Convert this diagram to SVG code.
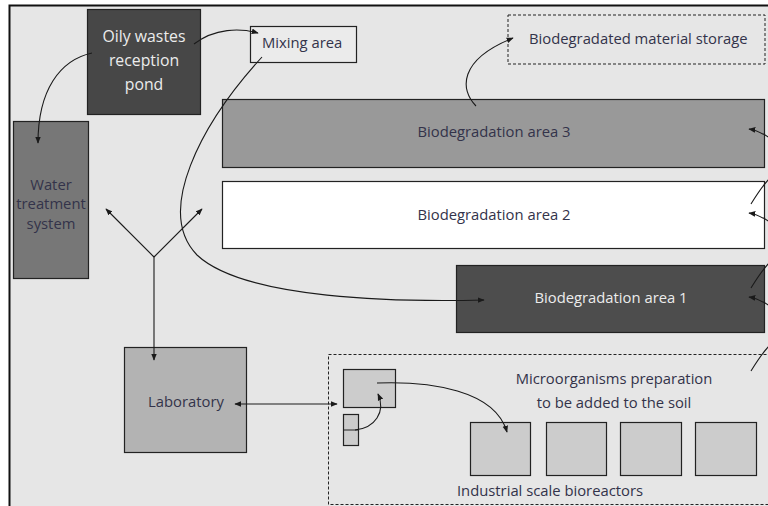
<svg xmlns="http://www.w3.org/2000/svg" width="768" height="506" viewBox="0 0 768 506">
  <defs>
    <marker id="arr" viewBox="0 0 10 10" refX="9" refY="5" markerWidth="7" markerHeight="7" markerUnits="userSpaceOnUse" orient="auto-start-reverse">
      <path d="M0,1 L10,5 L0,9 Z" fill="#1a1a1a"/>
    </marker>
    <style>
      text { font-family: "Open Sans", "DejaVu Sans", sans-serif; font-size: 14.8px; fill: #33334a; }
      .lt { fill: #ececec; }
      .big { font-size: 15.8px; }
      .box { stroke: #222; stroke-width: 1.2; }
      .dash { fill: none; stroke: #222; stroke-width: 1; stroke-dasharray: 3 2; }
      .con { fill: none; stroke: #1a1a1a; stroke-width: 1.1; }
    </style>
  </defs>

  <!-- page and site frame -->
  <rect x="0" y="0" width="768" height="506" fill="#ffffff"/>
  <rect x="9.5" y="5.5" width="770" height="520" fill="#e6e6e6" stroke="#111" stroke-width="2"/>

  <g id="oily-pond">
    <rect class="box" x="87.5" y="9.5" width="113" height="105" fill="#474747"/>
    <text class="lt big" x="144" y="42" text-anchor="middle">Oily wastes</text>
    <text class="lt big" x="144" y="66" text-anchor="middle">reception</text>
    <text class="lt big" x="144" y="90" text-anchor="middle">pond</text>
  </g>

  <g id="mixing-area">
    <rect class="box" x="250.5" y="26.5" width="106" height="36" fill="#ebebeb"/>
    <text x="262" y="48">Mixing area</text>
  </g>

  <g id="storage">
    <rect class="dash" x="508" y="15" width="257" height="49"/>
    <text x="529" y="44">Biodegradated material storage</text>
  </g>

  <g id="water-treatment">
    <rect class="box" x="13.5" y="121.5" width="75" height="157" fill="#777777"/>
    <text x="51" y="190" text-anchor="middle">Water</text>
    <text x="51" y="209" text-anchor="middle">treatment</text>
    <text x="51" y="229" text-anchor="middle">system</text>
  </g>

  <g id="area-3">
    <rect class="box" x="222.5" y="99.5" width="542" height="68" fill="#999999"/>
    <text x="494" y="137" text-anchor="middle">Biodegradation area 3</text>
  </g>

  <g id="area-2">
    <rect class="box" x="222.5" y="181.5" width="542" height="67" fill="#ffffff"/>
    <text x="494" y="220" text-anchor="middle">Biodegradation area 2</text>
  </g>

  <g id="area-1">
    <rect class="box" x="456.5" y="265.5" width="308" height="67" fill="#4d4d4d"/>
    <text class="lt" x="611" y="303" text-anchor="middle">Biodegradation area 1</text>
  </g>

  <g id="laboratory">
    <rect class="box" x="124.5" y="347.5" width="122" height="105" fill="#b3b3b3"/>
    <text x="186" y="407" text-anchor="middle">Laboratory</text>
  </g>

  <g id="microorganisms">
    <rect class="dash" x="328.5" y="354.5" width="445" height="150"/>
    <rect class="box" x="343.5" y="369.5" width="52" height="38" fill="#cccccc"/>
    <rect class="box" x="343.5" y="414.5" width="15" height="31" fill="#cccccc"/>
    <line x1="343.5" y1="430" x2="358.5" y2="430" stroke="#222" stroke-width="1"/>
    <text x="614" y="384" text-anchor="middle">Microorganisms preparation</text>
    <text x="614" y="408" text-anchor="middle">to be added to the soil</text>
  </g>

  <g id="bioreactors">
    <rect class="box" x="470.5" y="422.5" width="60" height="53" fill="#cccccc"/>
    <rect class="box" x="546.5" y="422.5" width="60" height="53" fill="#cccccc"/>
    <rect class="box" x="620.5" y="422.5" width="61" height="53" fill="#cccccc"/>
    <rect class="box" x="695.5" y="422.5" width="61" height="53" fill="#cccccc"/>
    <text x="550" y="496" text-anchor="middle">Industrial scale bioreactors</text>
  </g>

  <g id="connectors">
    <!-- pond to water treatment and to mixing -->
    <path class="con" d="M92,53 C60,60 38,90 38,143" marker-end="url(#arr)"/>
    <path class="con" d="M194,44 C215,28 240,28 258,33" marker-end="url(#arr)"/>
    <!-- mixing to area 1 -->
    <path class="con" d="M262,57 C200,125 155,212 197,255 C245,300 400,302 484,300" marker-end="url(#arr)"/>
    <!-- area 3 to storage -->
    <path class="con" d="M476,106 C460,90 458,60 513,38" marker-end="url(#arr)"/>
    <!-- laboratory distribution fork -->
    <path class="con" d="M154,257 L154,360" marker-end="url(#arr)"/>
    <path class="con" d="M154,257 L106,209" marker-end="url(#arr)"/>
    <path class="con" d="M154,257 L202,209" marker-end="url(#arr)"/>
    <!-- laboratory to microorganisms -->
    <path class="con" d="M235,404 L337,404" marker-start="url(#arr)" marker-end="url(#arr)"/>
    <path class="con" d="M355,430 C375,428 386,412 378,394" marker-end="url(#arr)"/>
    <path class="con" d="M377,383 C430,381 495,390 507,432" marker-end="url(#arr)"/>
    <!-- right-hand transfers between areas -->
    <path class="con" d="M770,138 C762,133 756,130 749,129" marker-end="url(#arr)"/>
    <path class="con" d="M770,178 C762,186 756,196 751,204"/>
    <path class="con" d="M770,222 C762,217 756,214 749,213" marker-end="url(#arr)"/>
    <path class="con" d="M770,262 C762,270 756,280 751,288"/>
    <path class="con" d="M770,306 C762,301 756,298 749,297" marker-end="url(#arr)"/>
    <path class="con" d="M770,345 C762,353 756,363 751,371"/>
  </g>
</svg>
